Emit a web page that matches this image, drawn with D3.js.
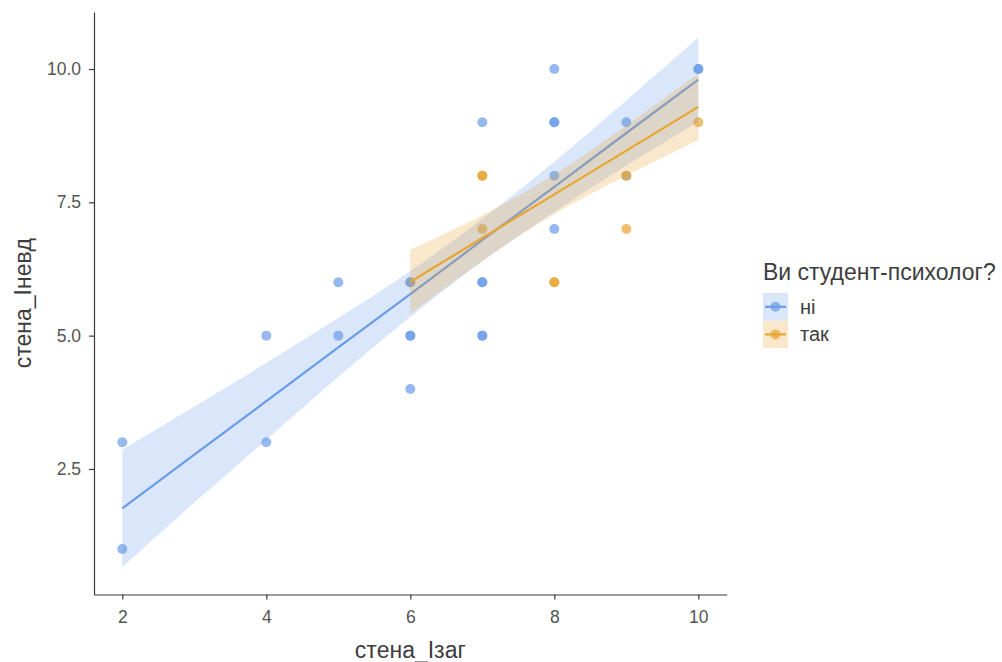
<!DOCTYPE html>
<html>
<head>
<meta charset="utf-8">
<script src="https://cdn.jsdelivr.net/npm/d3@7"></script>
<style>
  html, body { margin: 0; padding: 0; background: #ffffff; }
  svg { display: block; font-family: "Liberation Sans", Arial, sans-serif; }
</style>
</head>
<body>
<svg id="chart" width="1002" height="662"></svg>
<script>
// Observations in drawing order: стена_Ізаг (x), стена_Інев д (y), group
const ptX     = [6, 2, 2, 4, 4, 5, 5, 6, 6, 6, 6, 7, 7, 7, 7, 7, 8, 8, 8, 8, 8, 9, 9, 10, 10, 7, 7, 7, 8, 8, 9, 9, 10];
const ptY     = [6, 1, 3, 3, 5, 5, 6, 4, 5, 5, 6, 5, 5, 6, 6, 9, 7, 8, 9, 9, 10, 9, 8, 10, 10, 7, 8, 8, 6, 6, 7, 8, 9];
const ptGroup = ["так", "ні", "ні", "ні", "ні", "ні", "ні", "ні", "ні", "ні", "ні", "ні", "ні", "ні", "ні", "ні",
                 "ні", "ні", "ні", "ні", "ні", "ні", "ні", "ні", "ні", "так", "так", "так", "так", "так", "так", "так", "так"];

// Linear fits with 95% confidence bands
const niFitX   = [2, 3, 4, 5, 6, 7, 8, 9, 10];
const niFit    = [1.76, 2.77, 3.77, 4.78, 5.78, 6.79, 7.79, 8.80, 9.80];
const niLow    = [0.66, 1.87, 3.05, 4.23, 5.35, 6.39, 7.32, 8.19, 9.01];
const niHigh   = [2.86, 3.67, 4.49, 5.33, 6.21, 7.19, 8.26, 9.41, 10.59];
const takFitX  = [6, 7, 8, 9, 10];
const takFit   = [6.01, 6.83, 7.65, 8.47, 9.29];
const takLow   = [5.41, 6.40, 7.28, 8.00, 8.67];
const takHigh  = [6.61, 7.26, 8.02, 8.94, 9.91];

const xTicks = [2, 4, 6, 8, 10];
const yTicks = [2.5, 5.0, 7.5, 10.0];
const groups = ["ні", "так"];

const xTitle = "стена_Ізаг";
const yTitle = "стена_Інев д".replace(" ", "");
const legendTitle = "Ви студент-психолог?";

const color = d3.scaleOrdinal().domain(groups).range(["#6a9be8", "#e8a532"]);

const svg = d3.select("#chart");
svg.append("rect").attr("width", 1002).attr("height", 662).attr("fill", "#ffffff");

const panel = { left: 94, right: 726.7, top: 12, bottom: 594.5 };

const x = d3.scaleLinear().domain([1.607, 10.394]).range([panel.left, panel.right]);
const y = d3.scaleLinear().domain([0.146, 11.069]).range([panel.bottom, panel.top]);

// points
const pts = ptX.map((v, i) => ({ x: v, y: ptY[i], g: ptGroup[i] }));

svg.append("g").selectAll("circle")
  .data(pts)
  .join("circle")
  .attr("cx", d => x(d.x))
  .attr("cy", d => y(d.y))
  .attr("r", 5)
  .attr("fill", d => color(d.g))
  .attr("fill-opacity", 0.7);

// smoothers: band then line, per group
function drawSmooth(xs, fit, lo, hi, col) {
  const rows = xs.map((v, i) => ({ x: v, f: fit[i], lo: lo[i], hi: hi[i] }));
  svg.append("path")
    .datum(rows)
    .attr("fill", col)
    .attr("fill-opacity", 0.25)
    .attr("d", d3.area()
      .x(d => x(d.x))
      .y0(d => y(d.lo))
      .y1(d => y(d.hi))
      .curve(d3.curveNatural));
  svg.append("path")
    .datum(rows)
    .attr("fill", "none")
    .attr("stroke", col)
    .attr("stroke-width", 2.2)
    .attr("d", d3.line().x(d => x(d.x)).y(d => y(d.f)));
}
drawSmooth(niFitX, niFit, niLow, niHigh, color("ні"));
drawSmooth(takFitX, takFit, takLow, takHigh, color("так"));

// axes
const axisColor = "#3a3a3a";
const tickColor = "#555555";

const gx = svg.append("g")
  .attr("transform", `translate(0,${panel.bottom})`)
  .call(d3.axisBottom(x).tickValues(xTicks).tickSizeInner(5).tickSizeOuter(0).tickPadding(11).tickFormat(d3.format("d")));
const gy = svg.append("g")
  .attr("transform", `translate(${panel.left},0)`)
  .call(d3.axisLeft(y).tickValues(yTicks).tickSizeInner(5).tickSizeOuter(0).tickPadding(8).tickFormat(d3.format(".1f")));

[gx, gy].forEach(g => {
  g.select(".domain").attr("stroke", axisColor).attr("stroke-width", 1.2);
  g.selectAll(".tick line").attr("stroke", axisColor).attr("stroke-width", 1.2);
  g.selectAll(".tick text")
    .attr("fill", tickColor)
    .attr("font-size", 17.5)
    .attr("font-family", "Liberation Sans, Arial, sans-serif");
});

// axis titles
svg.append("text")
  .attr("x", (panel.left + panel.right) / 2)
  .attr("y", 658)
  .attr("text-anchor", "middle")
  .attr("font-size", 23)
  .attr("fill", "#3d3d3d")
  .text(xTitle);

svg.append("text")
  .attr("transform", `translate(30.5,${(panel.top + panel.bottom) / 2}) rotate(-90)`)
  .attr("text-anchor", "middle")
  .attr("font-size", 23)
  .attr("fill", "#3d3d3d")
  .text(yTitle);

// legend
const lg = svg.append("g").attr("transform", "translate(763,0)");
lg.append("text")
  .attr("x", 0)
  .attr("y", 280)
  .attr("font-size", 23)
  .attr("fill", "#3d3d3d")
  .text(legendTitle);

const keyTop = 293, keyH = 27.6, keyW = 25;
groups.forEach((name, i) => {
  const ky = keyTop + i * keyH;
  const cy = ky + keyH / 2;
  lg.append("rect")
    .attr("x", 0).attr("y", ky)
    .attr("width", keyW).attr("height", keyH)
    .attr("fill", color(name)).attr("fill-opacity", 0.25);
  lg.append("line")
    .attr("x1", 2).attr("x2", keyW - 2)
    .attr("y1", cy).attr("y2", cy)
    .attr("stroke", color(name)).attr("stroke-width", 2.2);
  lg.append("circle")
    .attr("cx", keyW / 2).attr("cy", cy).attr("r", 5)
    .attr("fill", color(name)).attr("fill-opacity", 0.7);
  lg.append("text")
    .attr("x", 37)
    .attr("y", cy + 7)
    .attr("font-size", 20)
    .attr("fill", "#3d3d3d")
    .text(name);
});
</script>
</body>
</html>
